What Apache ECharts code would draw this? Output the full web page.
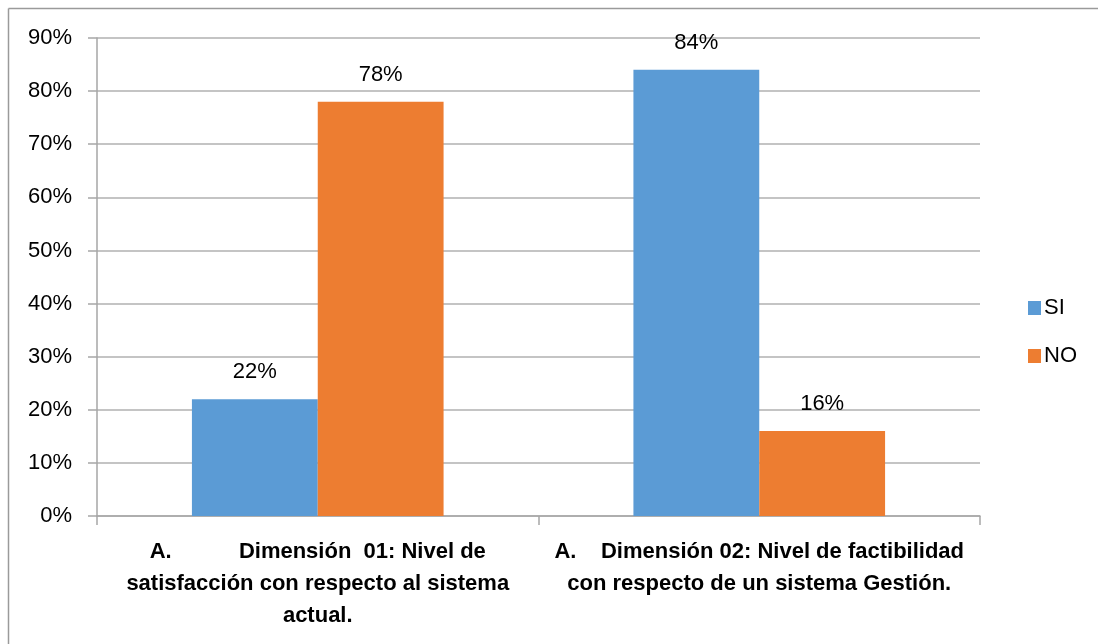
<!DOCTYPE html>
<html>
<head>
<meta charset="utf-8">
<script src="https://cdn.jsdelivr.net/npm/echarts@6/dist/echarts.min.js"></script>
<style>
  html, body { margin: 0; padding: 0; background: #ffffff; }
  #chart { width: 1098px; height: 644px; }
</style>
</head>
<body>
<div id="chart"></div>
<script>
// Survey results per dimension
const categories = [
  'A.           Dimensión  01: Nivel de\nsatisfacción con respecto al sistema\nactual.',
  'A.    Dimensión 02: Nivel de factibilidad\ncon respecto de un sistema Gestión.'
];
const seriesNames = ['SI', 'NO'];
const siValues = [22, 84];
const noValues = [78, 16];
const yTicks = [0, 10, 20, 30, 40, 50, 60, 70, 80, 90];

const FONT = '"Liberation Sans", Arial, sans-serif';
const chart = echarts.init(document.getElementById('chart'), null, { renderer: 'canvas' });

const labelStyle = {
  show: true,
  position: 'top',
  distance: 16,
  formatter: p => p.value + '%',
  fontFamily: FONT,
  fontSize: 22,
  color: '#000'
};

chart.setOption({
  animation: false,
  backgroundColor: '#ffffff',
  graphic: [
    // outer frame (left and top edges)
    { type: 'line', shape: { x1: 8.5, y1: 8.5, x2: 8.5, y2: 660 }, style: { stroke: '#9a9a9a', lineWidth: 1.5 } },
    { type: 'line', shape: { x1: 8.5, y1: 8.5, x2: 1110, y2: 8.5 }, style: { stroke: '#9a9a9a', lineWidth: 1.5 } }
  ],
  grid: { left: 97, right: 118, top: 38, bottom: 128 },
  legend: {
    orient: 'vertical',
    left: 1023,
    top: 292,
    itemWidth: 13,
    itemHeight: 14,
    itemGap: 26,
    icon: 'rect',
    textStyle: { fontFamily: FONT, fontSize: 22, color: '#000', padding: [0, 0, 0, -2] },
    data: seriesNames
  },
  xAxis: {
    type: 'category',
    data: categories,
    axisLine: { lineStyle: { color: '#a6a6a6', width: 1.5 } },
    axisTick: { show: true, length: 9, lineStyle: { color: '#a6a6a6', width: 1.5 } },
    axisLabel: {
      interval: 0,
      margin: 20,
      fontFamily: FONT,
      fontSize: 22,
      fontWeight: 'bold',
      color: '#000',
      lineHeight: 32,
      align: 'center'
    }
  },
  yAxis: {
    type: 'value',
    min: yTicks[0],
    max: yTicks[yTicks.length - 1],
    interval: 10,
    axisLine: { show: true, lineStyle: { color: '#a6a6a6', width: 1.5 } },
    axisTick: { show: true, inside: false, length: 9, lineStyle: { color: '#a6a6a6', width: 1.5 } },
    splitLine: { show: true, lineStyle: { color: '#b0b0b0', width: 1.5 } },
    axisLabel: {
      margin: 25,
      formatter: v => v + '%',
      fontFamily: FONT,
      fontSize: 22,
      color: '#000'
    }
  },
  series: [
    {
      name: seriesNames[0],
      type: 'bar',
      data: siValues,
      barGap: '0%',
      barCategoryGap: '43%',
      itemStyle: { color: '#5B9BD5' },
      label: labelStyle
    },
    {
      name: seriesNames[1],
      type: 'bar',
      data: noValues,
      barGap: '0%',
      barCategoryGap: '43%',
      itemStyle: { color: '#ED7D31' },
      label: labelStyle
    }
  ]
});
</script>
</body>
</html>
